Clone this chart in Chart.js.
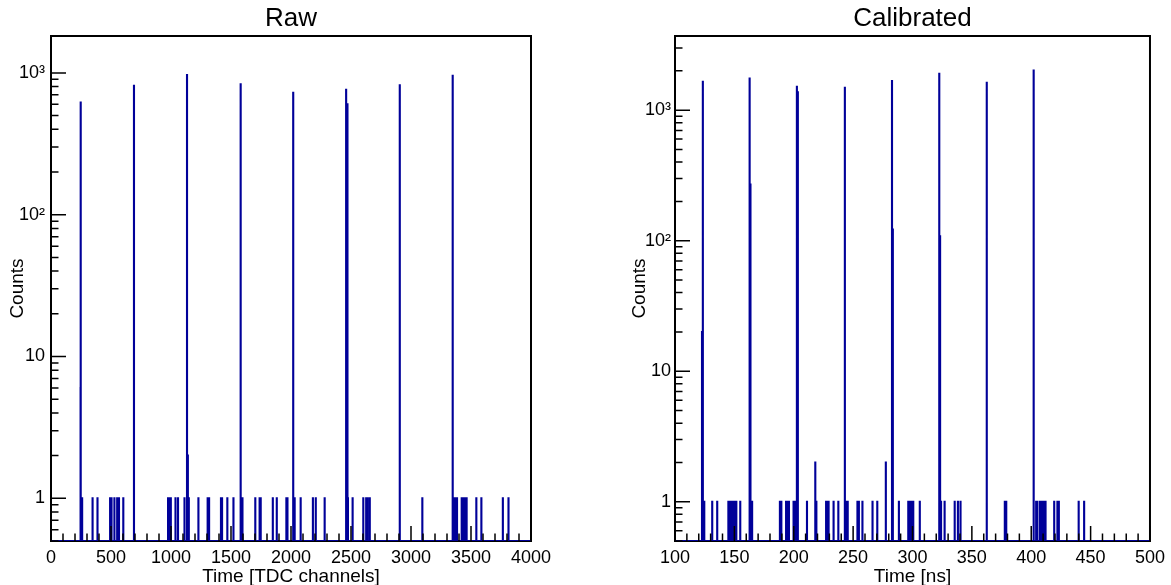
<!DOCTYPE html>
<html lang="en">
<head>
  <meta charset="UTF-8" />
  <title>TDC time spectra</title>
  <script src="https://cdn.jsdelivr.net/npm/chart.js@4.4.0/dist/chart.umd.min.js"></script>
  <style>
    body { margin: 0; background: #fff; }
    canvas { position: absolute; top: 0; }
    #rawChart { left: 0; }
    #calChart { left: 585px; }
  </style>
</head>
<body>
  <canvas id="rawChart" width="585" height="585"></canvas>
  <canvas id="calChart" width="586" height="585"></canvas>

  <script>
    // raw spectrum, one bin per TDC channel: channel and counts (empty bins left out)
    const rawChannels = [
      246, 247, 259, 346, 387, 492, 504, 528, 551, 566, 602,
      691, 975, 990, 998, 1037, 1058, 1112, 1133, 1140, 1148,
      1228, 1305, 1317, 1416, 1425, 1469, 1520, 1580, 1595,
      1702, 1738, 1747, 1848, 1881, 1961, 1970, 2018, 2030,
      2080, 2182, 2206, 2280, 2459, 2470, 2474, 2513, 2602, 2626, 2638, 2656,
      2906, 3094, 3347, 3359, 3371, 3383, 3422, 3431, 3443, 3455, 3463,
      3544, 3586, 3765, 3812
    ];
    const rawCounts = [
      6, 618, 1, 1, 1, 1, 1, 1, 1, 1, 1,
      810, 1, 1, 1, 1, 1, 1, 968, 2, 1,
      1, 1, 1, 1, 1, 1, 1, 833, 1,
      1, 1, 1, 1, 1, 1, 1, 723, 1,
      1, 1, 1, 1, 759, 600, 1, 1, 1, 1, 1, 1,
      819, 1, 953, 1, 1, 1, 1, 1, 1, 1, 1,
      1, 1, 1, 1
    ];

    // calibrated spectrum, 0.1 ns bins: bin time [ns] and counts
    const calTimes = [
      122.7, 123.4, 124.6, 131.3, 135.5, 144.9, 146.1, 147.6, 148.9, 150.4, 151.6, 154.9,
      162.8, 163.5, 164.9, 188.3, 189.5, 193.5, 194.7, 195.9, 199.8, 200.8, 202.6, 203.4,
      211.1, 218.1, 219.0, 227.2, 228.1, 229.3, 233.5, 237.5, 243.0, 244.2, 245.4,
      253.6, 254.8, 257.8, 266.3, 270.3, 277.5, 282.7, 283.4,
      288.5, 296.4, 297.3, 299.1, 300.6, 306.1, 322.5, 323.2, 324.0, 327.0,
      335.5, 338.2, 340.4, 362.5, 377.7, 378.9,
      402.0, 404.1, 405.0, 407.2, 409.0, 410.2, 412.0, 419.3, 422.0, 423.2, 439.9, 444.5
    ];
    const calCounts = [
      20, 1649, 1, 1, 1, 1, 1, 1, 1, 1, 1, 1,
      1751, 270, 1, 1, 1, 1, 1, 1, 1, 1, 1510, 1370,
      1, 2, 1, 1, 1, 1, 1, 1, 1483, 1, 1,
      1, 1, 1, 1, 1, 2, 1670, 122,
      1, 1, 1, 1, 1, 1, 1899, 108, 1, 1,
      1, 1, 1, 1620, 1, 1,
      2017, 1, 1, 1, 1, 1, 1, 1, 1, 1, 1, 1
    ];

    const rawXTicks = [0, 500, 1000, 1500, 2000, 2500, 3000, 3500, 4000];
    const calXTicks = [100, 150, 200, 250, 300, 350, 400, 450, 500];
    const yDecades = [1, 10, 100, 1000];
    const yDecadeLabels = ["1", "10", "10\u00b2", "10\u00b3"];

    const lineColor = "rgb(0, 0, 153)";
    const yFloor = 0.5;

    Chart.defaults.font.family = "'Liberation Sans', Arial, Helvetica, sans-serif";
    Chart.defaults.color = "#000";

    // fill in the empty bins and turn the bins into a stepped outline
    function histPoints(lo, hi, nBins, centers, counts) {
      const width = (hi - lo) / nBins;
      const bins = new Array(nBins).fill(0);
      centers.forEach((c, i) => {
        bins[Math.floor((c - lo) / width + 1e-6)] = counts[i];
      });
      const pts = bins.map((n, i) => ({ x: lo + i * width, y: Math.max(n, yFloor) }));
      pts.push({ x: hi, y: yFloor });
      return pts;
    }

    // frame under the histogram, inward ticks over it
    const frameTicks = {
      id: "frameTicks",
      beforeDatasetsDraw(chart) {
        const { ctx, chartArea: a } = chart;
        ctx.save();
        ctx.strokeStyle = "#000";
        ctx.lineWidth = 2;
        ctx.strokeRect(a.left, a.top, a.right - a.left, a.bottom - a.top);
        ctx.restore();
      },
      afterDatasetsDraw(chart, args, opts) {
        const { ctx, chartArea: a } = chart;
        const x = chart.scales.x, y = chart.scales.y;
        ctx.save();
        ctx.strokeStyle = "#000";
        ctx.lineWidth = 1.5;
        ctx.beginPath();
        const nx = Math.round((x.max - x.min) / opts.xMinor);
        for (let i = 0; i <= nx; i++) {
          const v = x.min + i * opts.xMinor;
          const px = x.getPixelForValue(v);
          const major = Math.abs(v / opts.xMajor - Math.round(v / opts.xMajor)) < 1e-6;
          ctx.moveTo(px, a.bottom);
          ctx.lineTo(px, a.bottom - (major ? 15 : 7.5));
        }
        for (let base = 0.1; base <= y.max; base *= 10) {
          for (let k = 1; k <= 9; k++) {
            const v = k * base;
            if (v < y.min - 1e-9 || v > y.max) continue;
            const py = y.getPixelForValue(v);
            ctx.moveTo(a.left, py);
            ctx.lineTo(a.left + (k === 1 ? 15 : 7.5), py);
          }
        }
        ctx.stroke();
        ctx.restore();
      }
    };

    function histConfig(opt) {
      return {
        type: "line",
        data: {
          datasets: [{
            data: opt.points,
            borderColor: lineColor,
            borderWidth: 2,
            pointRadius: 0,
            stepped: true,
            tension: 0
          }]
        },
        options: {
          responsive: false,
          animation: false,
          events: [],
          layout: { padding: { top: 0, left: 0, bottom: 0, right: opt.padRight } },
          plugins: {
            legend: { display: false },
            tooltip: { enabled: false },
            title: {
              display: true,
              text: opt.title,
              fullSize: false,
              font: { size: 26, weight: "normal" },
              padding: { top: 3, bottom: 1.8 }
            },
            frameTicks: { xMajor: opt.xMajor, xMinor: opt.xMinor }
          },
          scales: {
            x: {
              type: "linear",
              min: opt.xMin,
              max: opt.xMax,
              afterFit: (s) => { s.height = 44; },
              afterBuildTicks: (s) => { s.ticks = opt.xTicks.map((v) => ({ value: v })); },
              grid: { display: false, drawTicks: false },
              border: { display: false },
              ticks: { font: { size: 18 }, padding: 6, maxRotation: 0, autoSkip: false, callback: (v) => String(v) },
              title: { display: true, text: opt.xTitle, font: { size: 19 }, padding: { top: 0, bottom: -3 } }
            },
            y: {
              type: "logarithmic",
              min: yFloor,
              max: opt.yMax,
              afterFit: (s) => { s.width = opt.yWidth; },
              afterBuildTicks: (s) => { s.ticks = yDecades.map((v) => ({ value: v })); },
              grid: { display: false, drawTicks: false },
              border: { display: false },
              ticks: { font: { size: 18 }, padding: opt.yPad, callback: (v, i) => yDecadeLabels[i] },
              title: { display: true, text: "Counts", font: { size: 19 }, padding: { top: opt.yTitlePad, bottom: 0 } }
            }
          }
        },
        plugins: [frameTicks]
      };
    }

    const rawChart = new Chart(document.getElementById("rawChart"), histConfig({
      points: histPoints(0, 4000, 4000, rawChannels, rawCounts),
      title: "Raw",
      xTitle: "Time [TDC channels]",
      xMin: 0, xMax: 4000, xTicks: rawXTicks, xMajor: 500, xMinor: 100,
      yMax: 1820, yWidth: 51, yPad: 6, yTitlePad: 6, padRight: 54
    }));

    const calChart = new Chart(document.getElementById("calChart"), histConfig({
      points: histPoints(100, 500, 4000, calTimes, calCounts),
      title: "Calibrated",
      xTitle: "Time [ns]",
      xMin: 100, xMax: 500, xTicks: calXTicks, xMajor: 50, xMinor: 10,
      yMax: 3700, yWidth: 90, yPad: 4, yTitlePad: 43.6, padRight: 17
    }));
  </script>
</body>
</html>
